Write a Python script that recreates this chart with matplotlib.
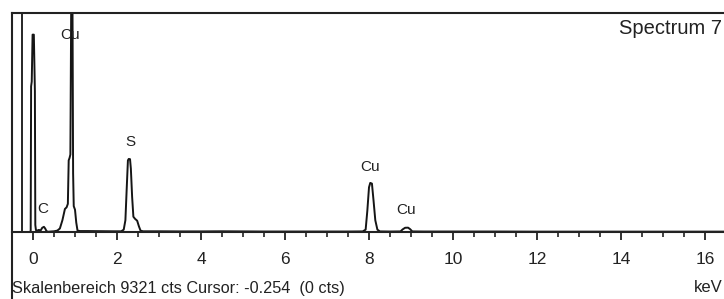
import matplotlib
matplotlib.use("Agg")
import matplotlib.pyplot as plt
from matplotlib.ticker import MultipleLocator

plt.rcParams['font.family'] = ['Liberation Sans', 'DejaVu Sans']

# Spectrum trace (energy in keV, counts)
energy_kev = [-0.10, -0.07, -0.055, -0.045, -0.03, -0.01, 0.02, 0.045, 0.055, 0.07,
              0.10, 0.14, 0.18, 0.22, 0.26, 0.29, 0.32, 0.36, 0.42, 0.50,
              0.58, 0.64, 0.70, 0.76, 0.80, 0.83, 0.85, 0.87, 0.89, 0.91,
              0.94, 0.955, 0.97, 1.00, 1.03, 1.06, 1.12, 1.3, 1.6, 1.9,
              2.10, 2.16, 2.20, 2.23, 2.26, 2.28, 2.31, 2.33, 2.36, 2.39,
              2.43, 2.48, 2.52, 2.56, 2.62, 3.0, 3.5, 4.0, 4.5, 5.0,
              5.5, 6.0, 6.5, 7.0, 7.5, 7.85, 7.92, 7.96, 8.00, 8.03,
              8.07, 8.11, 8.15, 8.20, 8.26, 8.5, 8.75, 8.80, 8.86, 8.93,
              8.98, 9.03, 9.3, 10.0, 11.0, 12.0, 13.0, 14.0, 15.0, 16.0, 16.5]
counts = [0, 0, 60, 6200, 6400, 8400, 8400, 6000, 300, 80,
          60, 90, 60, 180, 220, 150, 40, 10, 20, 30,
          60, 150, 500, 980, 1050, 1200, 3050, 3150, 3300, 9800,
          9800, 2500, 1100, 950, 400, 60, 40, 40, 35, 30,
          30, 100, 500, 1800, 3050, 3110, 3100, 2700, 1500, 650,
          560, 480, 250, 60, 30, 30, 25, 25, 30, 25,
          20, 20, 20, 20, 20, 25, 100, 900, 1900, 2090,
          2060, 1300, 500, 100, 25, 20, 25, 110, 180, 185,
          120, 25, 20, 20, 20, 15, 15, 15, 15, 15, 15]

# Peak labels (element, energy position, counts position)
peak_labels = ["Cu", "C", "S", "Cu", "Cu"]
label_kev = [0.88, 0.24, 2.31, 8.02, 8.88]
label_cts = [8370, 980, 3830, 2770, 940]

full_scale = 9321
cursor_kev = -0.254
xticks = [0, 2, 4, 6, 8, 10, 12, 14, 16]

W, H = 724, 299
fig = plt.figure(figsize=(W / 100, H / 100), dpi=100)
fig.patch.set_facecolor('white')

ax_left, ax_top, x0_px, px_per_kev, base_px = 12, 13, 33, 42, 232
ax = fig.add_axes([ax_left / W, 0, (W - ax_left) / W, (H - ax_top) / H])
px_per_ct = (base_px - ax_top) / full_scale
ax.set_xlim((ax_left - x0_px) / px_per_kev, (W - x0_px) / px_per_kev)
ax.set_ylim(-(H - base_px) / px_per_ct, full_scale)

line_col = '#151515'
ax.plot(energy_kev, counts, color=line_col, lw=1.4, clip_on=True)
ax.plot([cursor_kev, cursor_kev], [0, full_scale], color=line_col, lw=1.3)

for s, x, y in zip(peak_labels, label_kev, label_cts):
    ax.text(x, y, s, ha='center', va='center', fontsize=11, color='#222222')

ax.spines['right'].set_visible(False)
ax.spines['bottom'].set_position(('data', 0))
for sp in ['left', 'top', 'bottom']:
    ax.spines[sp].set_color('#222222')
    ax.spines[sp].set_linewidth(1.5)
ax.set_yticks([])
ax.set_xticks(xticks)
ax.set_xticklabels([str(t) for t in xticks])
ax.xaxis.set_minor_locator(MultipleLocator(0.5))
ax.tick_params(axis='x', which='major', direction='out', length=5.8, width=1.3,
               pad=8.5, labelsize=12.5, colors='#222222')
ax.tick_params(axis='x', which='minor', direction='out', length=3.3, width=1.2,
               colors='#222222')

ax.text(0.997, 0.945, "Spectrum 7", transform=ax.transAxes, ha='right', va='center',
        fontsize=14.5, color='#222222')

fig.text(12.5 / W, (H - 289) / H, "Skalenbereich 9321 cts Cursor: -0.254  (0 cts)",
         ha='left', va='center', fontsize=11.7, color='#222222')
fig.text(694 / W, (H - 288) / H, "keV", ha='left', va='center', fontsize=12,
         color='#222222')

fig.savefig("out.png", dpi=100)
